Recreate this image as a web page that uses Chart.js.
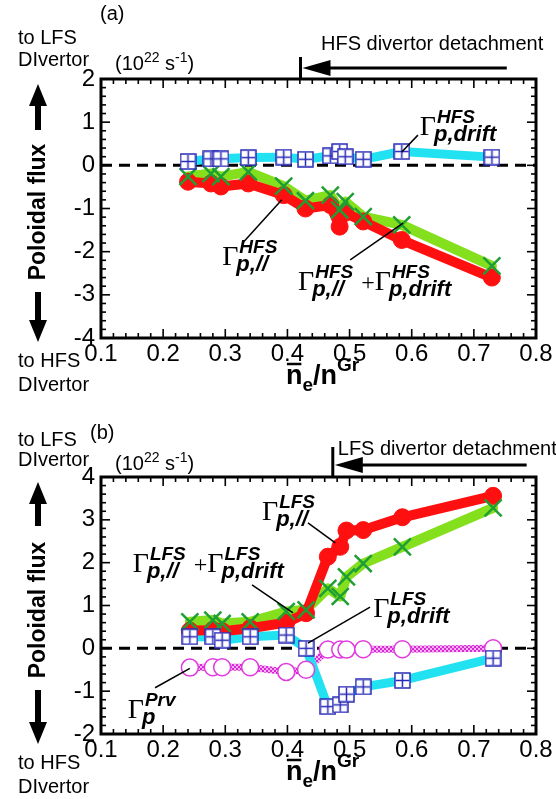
<!DOCTYPE html>
<html lang="en">
<head>
<meta charset="UTF-8">
<title>Poloidal flux vs line-averaged density</title>
<script src="https://cdn.jsdelivr.net/npm/chart.js"></script>
<style>
  body { margin: 0; background: #fff; }
  canvas { position: absolute; left: 0; }
</style>
</head>
<body>
<canvas id="chartA" width="556" height="400" style="top:0"></canvas>
<canvas id="chartB" width="556" height="399" style="top:400px"></canvas>
<script>
// axis ticks
const xTickVals = [0.1, 0.2, 0.3, 0.4, 0.5, 0.6, 0.7, 0.8];
const yTickValsA = [-4, -3, -2, -1, 0, 1, 2];
const yTickValsB = [-2, -1, 0, 1, 2, 3, 4];

// (a) HFS divertor fluxes, 1e22 s^-1
const neA      = [0.240, 0.277, 0.293, 0.337, 0.394, 0.429, 0.469, 0.484, 0.493, 0.522, 0.584, 0.729];
const hfsPar   = [-0.38, -0.42, -0.49, -0.42, -0.69, -1.00, -0.92, -1.42, -1.10, -1.30, -1.73, -2.60];
const hfsTotal = [-0.26, -0.19, -0.26, -0.15, -0.48, -0.82, -0.69, -1.03, -0.84, -1.19, -1.38, -2.33];
const hfsDrift = [0.09, 0.15, 0.15, 0.18, 0.19, 0.14, 0.22, 0.32, 0.20, 0.14, 0.32, 0.19];

// (b) LFS divertor and private flux
const neB      = [0.243, 0.280, 0.295, 0.340, 0.398, 0.430, 0.465, 0.485, 0.495, 0.522, 0.585, 0.731];
const lfsPar   = [0.41, 0.43, 0.40, 0.47, 0.60, 0.82, 2.14, 2.37, 2.75, 2.76, 3.06, 3.56];
const lfsTotal = [0.62, 0.66, 0.58, 0.62, 0.86, 0.90, 1.40, 1.21, 1.67, 1.98, 2.37, 3.28];
const lfsDrift = [0.27, 0.27, 0.19, 0.27, 0.31, 0.00, -1.36, -1.32, -1.07, -0.90, -0.75, -0.23];
const prvFlux  = [-0.45, -0.44, -0.44, -0.44, -0.55, -0.50, -0.03, -0.03, -0.03, -0.02, -0.02, 0.00];

const RED = '#ff1010';
const LIME = '#84e01c';
const XGREEN = '#1f9e35';
const CYAN = '#22e2f2';
const BLUE = '#2a2ab8';
const MAGENTA = '#e03ae0';
const SANS = '"Liberation Sans", Arial, sans-serif';
const SERIF = '"Liberation Serif", "Times New Roman", serif';

const pts = (xs, ys) => xs.map((x, i) => ({ x: x, y: ys[i] }));

// square with a cross inside, used as point style
function gridSquare(size) {
  const c = document.createElement('canvas');
  c.width = c.height = size;
  const g = c.getContext('2d');
  g.fillStyle = '#fff';
  g.fillRect(1, 1, size - 2, size - 2);
  g.strokeStyle = BLUE;
  g.lineWidth = 1.5;
  g.strokeRect(1, 1, size - 2, size - 2);
  g.beginPath();
  g.moveTo(size / 2, 2); g.lineTo(size / 2, size - 2);
  g.moveTo(2, size / 2); g.lineTo(size - 2, size / 2);
  g.stroke();
  return c;
}

// dotted pink texture for the private flux line
function dotPattern(ctx) {
  const c = document.createElement('canvas');
  c.width = c.height = 4;
  const g = c.getContext('2d');
  g.fillStyle = '#f6b0f2';
  g.fillRect(0, 0, 4, 4);
  g.fillStyle = '#d62ad6';
  g.fillRect(0, 0, 2, 2);
  g.fillRect(2, 2, 2, 2);
  return ctx.createPattern(c, 'repeat');
}

const squareImg = gridSquare(17);

function lineSet(xs, ys, color, width, order) {
  return { data: pts(xs, ys), borderColor: color, borderWidth: width, pointRadius: 0,
           tension: 0, borderJoinStyle: 'round', borderCapStyle: 'round', order: order };
}
function markSet(xs, ys, style, order) {
  return Object.assign({ data: pts(xs, ys), showLine: false, order: order }, style);
}
const redDot = { pointStyle: 'circle', pointRadius: 8.5, pointBackgroundColor: RED, pointBorderColor: RED, pointBorderWidth: 1 };
const greenX = { pointStyle: 'crossRot', pointRadius: 12, pointBorderColor: XGREEN, pointBorderWidth: 2.5 };
const blueSq = { pointStyle: squareImg, pointRadius: 8 };
const openRing = { pointStyle: 'circle', pointRadius: 8.5, pointBackgroundColor: '#fff', pointBorderColor: MAGENTA, pointBorderWidth: 1.5 };

function line(ctx, x1, y1, x2, y2) {
  ctx.beginPath(); ctx.moveTo(x1, y1); ctx.lineTo(x2, y2); ctx.stroke();
}

function vArrow(ctx, x, yTail, yTip) {
  const dir = Math.sign(yTip - yTail), head = 22, half = 9;
  ctx.lineWidth = 6;
  line(ctx, x, yTail, x, yTip - dir * head);
  ctx.beginPath();
  ctx.moveTo(x, yTip);
  ctx.lineTo(x - half, yTip - dir * head);
  ctx.lineTo(x + half, yTip - dir * head);
  ctx.closePath();
  ctx.fill();
}

// Γ with a superscript and subscript; returns drawn width
function gammaTerm(ctx, x, y, sup, sub) {
  ctx.textBaseline = 'alphabetic';
  ctx.textAlign = 'left';
  ctx.font = '28px ' + SERIF;
  ctx.fillText('Γ', x, y);
  const gw = ctx.measureText('Γ').width;
  ctx.font = 'italic bold 19px ' + SANS;
  ctx.fillText(sup, x + gw + 1, y - 12);
  const supW = ctx.measureText(sup).width;
  ctx.font = 'italic bold 22px ' + SANS;
  ctx.fillText(sub, x + gw - 2, y + 6);
  const subW = ctx.measureText(sub).width;
  return gw + Math.max(supW + 1, subW - 2);
}

function makeDecor(cfg) {
  return {
    id: 'decor',
    beforeDatasetsDraw(chart) {
      const { ctx, chartArea: a, scales: { y } } = chart;
      const y0 = y.getPixelForValue(0);
      ctx.save();
      ctx.strokeStyle = '#000';
      ctx.lineWidth = 3;
      ctx.setLineDash([11, 7]);
      line(ctx, a.left, y0, a.right, y0);
      ctx.restore();
    },
    afterDraw(chart) {
      const { ctx, chartArea: a, scales: { x, y } } = chart;
      ctx.save();
      ctx.strokeStyle = '#000';
      ctx.fillStyle = '#000';

      // inward ticks on all four sides
      ctx.lineWidth = 1.6;
      for (let i = 0; i <= 35; i++) {
        const px = x.getPixelForValue(0.1 + i * 0.02);
        const len = i % 5 === 0 ? 9 : 5;
        line(ctx, px, a.bottom, px, a.bottom - len);
        line(ctx, px, a.top, px, a.top + len);
      }
      for (let i = 0; i <= 30; i++) {
        const py = y.getPixelForValue(y.min + i * 0.2);
        const len = i % 5 === 0 ? 9 : 5;
        line(ctx, a.left, py, a.left + len, py);
        line(ctx, a.right, py, a.right - len, py);
      }
      ctx.lineWidth = 3;
      ctx.strokeRect(a.left, a.top, a.right - a.left, a.bottom - a.top);

      // leader lines and flux labels
      ctx.lineWidth = 1.5;
      cfg.leaders.forEach(l => line(ctx, x.getPixelForValue(l[0]), y.getPixelForValue(l[1]),
                                         x.getPixelForValue(l[2]), y.getPixelForValue(l[3])));
      cfg.labels.forEach(lb => {
        let px = x.getPixelForValue(lb.x);
        const py = y.getPixelForValue(lb.y);
        lb.terms.forEach((t, k) => {
          if (k > 0) {
            ctx.font = '24px ' + SERIF;
            ctx.fillText('+', px + 8, py);
            px += 8 + ctx.measureText('+').width;
          }
          px += gammaTerm(ctx, px, py, t[0], t[1]);
        });
      });

      // detachment marker
      const d = cfg.detach;
      const dx = x.getPixelForValue(d.x), ax = x.getPixelForValue(d.to);
      const ay = a.top - d.arrowDy;
      ctx.lineWidth = 3;
      line(ctx, dx, a.top, dx, a.top - d.barH);
      line(ctx, dx + 24, ay, ax, ay);
      ctx.beginPath();
      ctx.moveTo(dx + 2, ay); ctx.lineTo(dx + 30, ay - 8); ctx.lineTo(dx + 30, ay + 8);
      ctx.closePath(); ctx.fill();
      ctx.font = '20px ' + SANS;
      ctx.textAlign = 'left';
      ctx.textBaseline = 'middle';
      ctx.fillText(d.text, x.getPixelForValue(d.textX), a.top - d.textDy);

      // panel tag, units and direction hints
      const s = cfg.side;
      ctx.fillText(cfg.tag, s.tag[0], s.tag[1]);
      ctx.fillText('to LFS', 18, s.top[0]);
      ctx.fillText('DIvertor', 18, s.top[1]);
      ctx.fillText('to HFS', 18, s.bottom[0]);
      ctx.fillText('DIvertor', 18, s.bottom[1]);

      let ux = 115;
      const uy = s.units;
      const part = (txt, size, dy) => {
        ctx.font = size + 'px ' + SANS;
        ctx.fillText(txt, ux, uy + dy);
        ux += ctx.measureText(txt).width;
      };
      part('(10', 20, 0); part('22', 14, -6); part(' s', 20, 0); part('-1', 14, -6); part(')', 20, 0);

      // vertical axis title with arrows
      vArrow(ctx, 38, s.up[0], s.up[1]);
      vArrow(ctx, 38, s.down[0], s.down[1]);
      ctx.save();
      ctx.translate(38, s.titleY);
      ctx.rotate(-Math.PI / 2);
      ctx.textAlign = 'center';
      ctx.font = 'bold 23px ' + SANS;
      ctx.fillText('Poloidal flux', 0, 1);
      ctx.restore();

      // horizontal axis title: n̄e / n^Gr
      ctx.textBaseline = 'alphabetic';
      const base = a.bottom + s.xTitleDy;
      const big = 'bold 27px ' + SANS, small = 'bold 19px ' + SANS;
      ctx.font = big; const wn = ctx.measureText('n').width; const wsl = ctx.measureText('/n').width;
      ctx.font = small; const we = ctx.measureText('e').width; const wg = ctx.measureText('Gr').width;
      let tx = (a.left + a.right) / 2 + 4 - (wn + we + wsl + wg) / 2;
      ctx.font = big;
      ctx.fillText('n', tx, base);
      ctx.lineWidth = 2.5;
      line(ctx, tx + 1, base - 20, tx + wn - 1, base - 20);
      tx += wn;
      ctx.font = small; ctx.fillText('e', tx, base + 7); tx += we;
      ctx.font = big; ctx.fillText('/n', tx, base); tx += wsl;
      ctx.font = small; ctx.fillText('Gr', tx, base - 13);
      ctx.restore();
    }
  };
}

function makeChart(id, yMin, yMax, yTicks, datasets, top, bottomSpace, cfg) {
  const tickFont = { family: 'Liberation Sans', size: 24 };
  return new Chart(document.getElementById(id), {
    type: 'line',
    data: { datasets: datasets },
    options: {
      responsive: false,
      animation: false,
      events: [],
      layout: { padding: { left: 0, right: 20, top: top, bottom: 0 } },
      plugins: { legend: { display: false }, tooltip: { enabled: false } },
      scales: {
        x: {
          type: 'linear', min: 0.1, max: 0.8,
          afterBuildTicks: s => { s.ticks = xTickVals.map(v => ({ value: v })); },
          afterFit: s => { s.height = bottomSpace; },
          ticks: { callback: v => v.toFixed(1), font: tickFont, color: '#000', padding: 2, maxRotation: 0, autoSkip: false },
          grid: { display: false, drawTicks: false },
          border: { display: false }
        },
        y: {
          type: 'linear', min: yMin, max: yMax,
          afterBuildTicks: s => { s.ticks = yTicks.map(v => ({ value: v })); },
          afterFit: s => { s.width = 101; },
          ticks: { callback: v => String(v), font: tickFont, color: '#000', padding: 6, autoSkip: false },
          grid: { display: false, drawTicks: false },
          border: { display: false }
        }
      }
    },
    plugins: [makeDecor(cfg)]
  });
}

// panel (a)
makeChart('chartA', -4, 2, yTickValsA, [
  lineSet(neA, hfsDrift, CYAN, 9, 14),
  lineSet(neA, hfsTotal, LIME, 10, 13),
  lineSet(neA, hfsPar, RED, 10, 12),
  markSet(neA, hfsPar, redDot, 3),
  markSet(neA, hfsTotal, greenX, 2),
  markSet(neA, hfsDrift, blueSq, 1)
], 79, 62, {
  tag: '(a)',
  side: { tag: [100, 14], top: [38, 60], units: 64, up: [130, 84], down: [292, 342],
          titleY: 212, bottom: [361, 385], xTitleDy: 46 },
  detach: { x: 0.421, to: 0.753, barH: 22, arrowDy: 11, text: 'HFS divertor detachment', textX: 0.454, textDy: 35 },
  leaders: [[0.610, 0.70, 0.584, 0.31], [0.329, -1.78, 0.391, -0.80], [0.501, -2.19, 0.586, -1.34]],
  labels: [
    { x: 0.613, y: 0.70, terms: [['HFS', 'p,drift']] },
    { x: 0.295, y: -2.31, terms: [['HFS', 'p,//']] },
    { x: 0.417, y: -2.89, terms: [['HFS', 'p,//'], ['HFS', 'p,drift']] }
  ]
});

// panel (b)
const ctxB = document.getElementById('chartB').getContext('2d');
makeChart('chartB', -2, 4, yTickValsB, [
  lineSet(neB, prvFlux, dotPattern(ctxB), 7, 15),
  lineSet(neB, lfsDrift, CYAN, 9, 14),
  lineSet(neB, lfsTotal, LIME, 10, 13),
  lineSet(neB, lfsPar, RED, 10, 12),
  markSet(neB, prvFlux, openRing, 4),
  markSet(neB, lfsPar, redDot, 3),
  markSet(neB, lfsTotal, greenX, 2),
  markSet(neB, lfsDrift, blueSq, 1)
], 77, 65, {
  tag: '(b)',
  side: { tag: [90, 33], top: [40, 60], units: 64, up: [126, 82], down: [290, 344],
          titleY: 210, bottom: [363, 387], xTitleDy: 46 },
  detach: { x: 0.473, to: 0.785, barH: 30, arrowDy: 12, text: 'LFS divertor detachment', textX: 0.481, textDy: 28 },
  leaders: [[0.433, 2.93, 0.477, 2.46], [0.343, 1.48, 0.409, 0.83], [0.533, 0.96, 0.433, 0.12], [0.187, -0.92, 0.243, -0.47]],
  labels: [
    { x: 0.359, y: 3.0, terms: [['LFS', 'p,//']] },
    { x: 0.151, y: 1.78, terms: [['LFS', 'p,//'], ['LFS', 'p,drift']] },
    { x: 0.538, y: 0.73, terms: [['LFS', 'p,drift']] },
    { x: 0.143, y: -1.63, terms: [['Prv', 'p']] }
  ]
});
</script>
</body>
</html>
